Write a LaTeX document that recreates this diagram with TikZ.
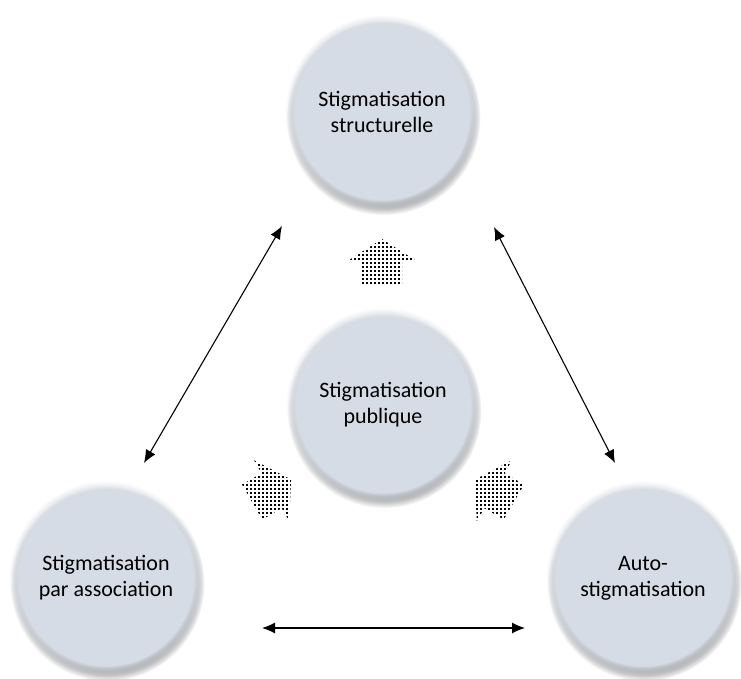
\documentclass[tikz,border=0pt]{standalone}
\usepackage{fontspec}
\setmainfont{Carlito}
\usetikzlibrary{arrows.meta,shapes.arrows,shadows,fadings}

\definecolor{stigfill}{HTML}{D6DCE5}

\begin{document}
\begin{tikzpicture}[x=1pt,y=-1pt,>={Latex[length=13pt,width=11pt]},
  stig/.style={circle,fill=stigfill,minimum size=194pt,inner sep=0pt,align=center,
    font=\fontsize{22}{26}\selectfont,
    path fading=circle with fuzzy edge 10 percent,
    circular drop shadow={shadow xshift=1.5pt,shadow yshift=-6pt,opacity=.75,fill=black!70,shadow scale=1}},
  % block arrow filled with a grid of small square dots
  dotarrow/.style={single arrow,minimum height=45pt,minimum width=70pt,
    inner xsep=0pt,inner ysep=20pt,
    single arrow head extend=15pt,single arrow tip angle=115,
    path picture={\pgftransformresetnontranslations
      \foreach \i in {-44,-40,...,44}
        \foreach \j in {-44,-40,...,44}
          \fill (\i pt,\j pt) rectangle ++(1.8pt,1.8pt);}},
  link/.style={<->,line width=1.1pt}]
  \useasboundingbox[fill=white] (0,0) rectangle (741,679);

  \node[stig] (struct) at (382,112) {Stigmatisation\\structurelle};
  \node[stig] (pub) at (383,405) {Stigmatisation\\publique};
  \node[stig] (assoc) at (106,578) {Stigmatisation\\par association};
  \node[stig] (auto) at (643,578) {Auto-\\stigmatisation};

  % dotted block arrows round the centre
  \node[dotarrow,rotate=90] (up) at (382,268) {};
  \node[dotarrow,rotate=30] (left) at (266,494) {};
  \node[dotarrow,rotate=150] (right) at (500,494) {};

  % ends of the double arrows
  \coordinate (sl) at ([shift={(-100,114)}]struct.center);
  \coordinate (sr) at ([shift={(112,115)}]struct.center);
  \coordinate (at) at ([shift={(38,-115)}]assoc.center);
  \coordinate (ar) at ([shift={(156,50)}]assoc.center);
  \coordinate (ut) at ([shift={(-28,-115)}]auto.center);
  \coordinate (ul) at ([shift={(-118,50)}]auto.center);

  \draw[link] (sl) -- (at);
  \draw[link] (sr) -- (ut);
  \draw[link] (ar) -- (ul);
\end{tikzpicture}
\end{document}
